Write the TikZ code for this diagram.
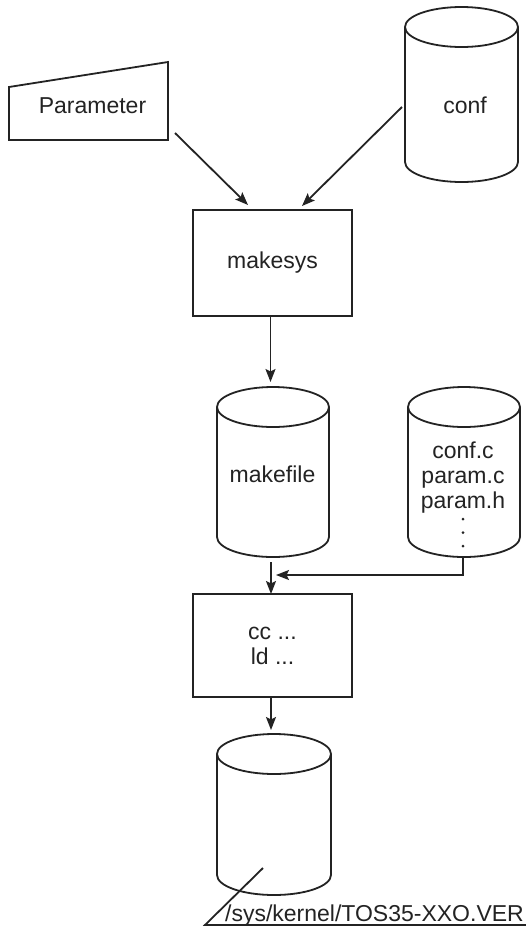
\documentclass[tikz,border=0pt]{standalone}
\usepackage{fontspec}
\setmainfont{Liberation Sans}
\usetikzlibrary{calc,arrows.meta}

\definecolor{ink}{RGB}{35,35,35}

% database cylinder drawn round an invisible frame node
\newcommand\dbcyl[1]{%
  \draw[ln] let \p1=(#1.north west), \p2=(#1.south east), \n1={(\x2-\x1)/2} in
    (\x1,\y1-20pt) -- (\x1,\y2+20pt)
    arc[start angle=180, end angle=360, x radius=\n1, y radius=20pt]
    -- (\x2,\y1-20pt)
    (\x1+\n1,\y1-20pt) ellipse[x radius=\n1, y radius=20pt];
}

\begin{document}
\begin{tikzpicture}[x=1pt,y=1pt,
  ln/.style={draw=ink, line width=1.8pt, line join=miter},
  arr/.style={ln, -{Stealth[length=13pt,width=10pt,inset=2.5pt]}},
  frame/.style={draw=none, inner sep=0pt, outer sep=0pt},
  box/.style={ln, rectangle, inner sep=0pt, outer sep=0pt, minimum width=159pt},
  txt/.style={text=ink, font=\fontsize{23pt}{25pt}\selectfont, inner sep=0pt},
  dotmark/.style={circle, fill=ink, inner sep=0pt, minimum size=3pt},
]
\useasboundingbox[fill=white] (0,0) rectangle (526,-927);

% Parameter input (slanted top)
\node[frame, minimum width=159pt, minimum height=78pt] (par) at (88.5,-101) {};
\draw[ln] (par.south west) -- (par.south east) -- (par.north east)
  -- ([yshift=-25pt]par.north west) -- cycle;
\node[txt, anchor=base] (partxt) at (92.5,-113) {Parameter};

% conf store
\node[frame, minimum width=113pt, minimum height=175pt] (conf) at (461.5,-94.5) {};
\dbcyl{conf}
\node[txt, anchor=base] (conftxt) at (465,-113) {conf};

% makesys
\node[box, txt, minimum height=106pt] (ms) at (272.5,-263) {makesys};

% makefile store
\node[frame, minimum width=112pt, minimum height=170pt] (mf) at (273,-472) {};
\dbcyl{mf}
\node[txt, anchor=base] (mftxt) at (272.5,-482) {makefile};

% generated sources store
\node[frame, minimum width=112pt, minimum height=170pt] (src) at (464,-472) {};
\dbcyl{src}
\node[txt, align=center] (srctxt) at (463,-478) {conf.c\\param.c\\param.h};
\node[dotmark] (d1) at (463,-519) {};
\node[dotmark] (d2) at (463,-532.5) {};
\node[dotmark] (d3) at (463,-546) {};

% compile and link
\node[box, txt, align=center, minimum height=103pt] (cc) at (272.5,-645.5) {cc ...\\ld ...};

% resulting kernel
\node[frame, minimum width=114pt, minimum height=161pt] (out) at (274,-814.5) {};
\dbcyl{out}

% connectors
\draw[arr] ([xshift=7pt,yshift=7pt]par.south east) -- ([xshift=-24.5pt,yshift=5pt]ms.north);
\draw[arr] ([xshift=-3pt,yshift=-12.5pt]conf.west) -- ([xshift=29.5pt,yshift=4pt]ms.north);
\draw[arr] ([xshift=-2pt]ms.south) -- ([xshift=-2.5pt,yshift=5pt]mf.north);
\draw[arr] ([xshift=-2pt,yshift=-5pt]mf.south) -- ([xshift=-1.5pt]cc.north);
\draw[arr] ([xshift=-1pt]src.south) |- ([xshift=3.5pt,yshift=19pt]cc.north);
\draw[arr] ([xshift=-1.5pt]cc.south) -- ([xshift=-3pt,yshift=4pt]out.north);

% file name callout
\coordinate (lbA) at ([xshift=-11pt,yshift=-53.5pt]out.center);
\coordinate (lbB) at (205,-925);
\coordinate (lbC) at (526,-925);
\node[txt, anchor=base east] (fname) at (524,-921) {/sys/kernel/TOS35-XXO.VER};
\draw[ln] (lbA) -- (lbB) -- (lbC);
\end{tikzpicture}
\end{document}
